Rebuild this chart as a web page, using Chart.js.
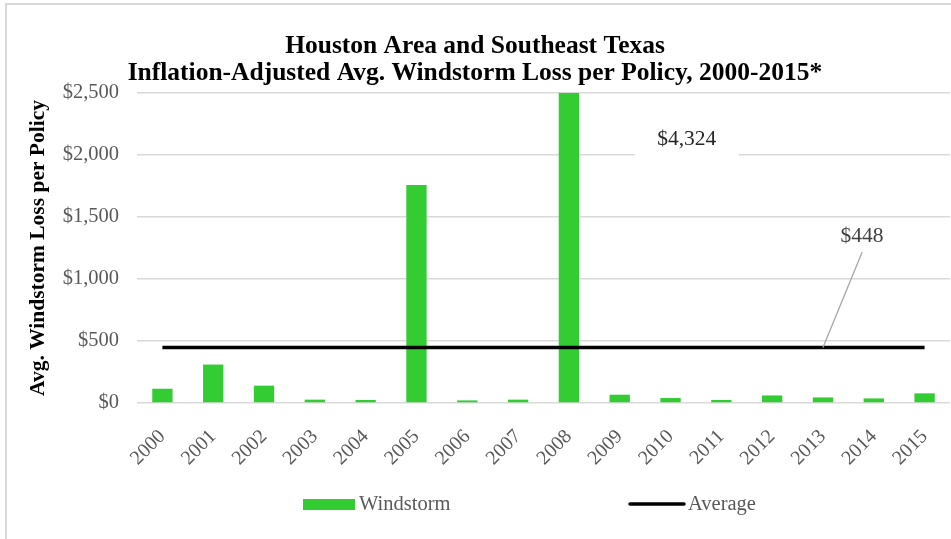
<!DOCTYPE html>
<html>
<head>
<meta charset="utf-8">
<title>Houston Windstorm Loss per Policy</title>
<script src="https://cdn.jsdelivr.net/npm/chart.js@4.4.1/dist/chart.umd.min.js"></script>
<style>
    html, body { margin: 0; padding: 0; background: #fff; overflow: hidden; }
    #frame { position: absolute; left: 5px; top: 3px; width: 1000px; height: 600px; border: 2px solid #d9d9d9; box-sizing: border-box; }
    #wrap { position: absolute; left: 0; top: 0; width: 951px; height: 539px; }
</style>
</head>
<body>
<div id="frame"></div>
<div id="wrap"><canvas id="lossChart"></canvas></div>
<script>
// data
const years = ['2000', '2001', '2002', '2003', '2004', '2005', '2006', '2007',
               '2008', '2009', '2010', '2011', '2012', '2013', '2014', '2015'];
const windstormLoss = [115, 310, 140, 27, 24, 1759, 21, 27, 4324, 67, 40, 24, 61, 45, 37, 78];
const averageLoss = [448, 448, 448, 448, 448, 448, 448, 448, 448, 448, 448, 448, 448, 448, 448, 448];
const yTicks = [0, 500, 1000, 1500, 2000, 2500];
const titleLines = ['Houston Area and Southeast Texas',
                    'Inflation-Adjusted Avg. Windstorm Loss per Policy, 2000-2015*'];

const SERIF = "'Liberation Serif', 'Times New Roman', serif";
const GREEN = '#33cc33';

const money = (v) => '$' + Number(v).toLocaleString('en-US');

// Excel-style data callouts: the clipped 2008 bar value and the average
const calloutPlugin = {
    id: 'callouts',
    afterDatasetsDraw(chart) {
        const { ctx, scales: { x, y } } = chart;
        ctx.save();
        ctx.font = '21.5px ' + SERIF;
        ctx.textAlign = 'center';
        ctx.textBaseline = 'middle';

        // peak value label, sits on a white box that hides the grid line
        const px = x.getPixelForValue(10.32);
        const py = y.getPixelForValue(2130);
        ctx.fillStyle = '#fff';
        ctx.fillRect(px - 52, py - 18, 104, 40);
        ctx.fillStyle = '#262626';
        ctx.fillText(money(windstormLoss[8]), px, py);

        // average label with leader line
        const ax = x.getPixelForValue(13.77);
        const ay = y.getPixelForValue(1344);
        ctx.strokeStyle = '#a6a6a6';
        ctx.lineWidth = 1.3;
        ctx.beginPath();
        ctx.moveTo(ax, y.getPixelForValue(1215));
        ctx.lineTo(x.getPixelForValue(13), y.getPixelForValue(averageLoss[13]));
        ctx.stroke();
        ctx.fillStyle = '#404040';
        ctx.fillText(money(averageLoss[13]), ax, ay);
        ctx.restore();
    }
};

// legend spread out like the Excel original
const spreadLegendPlugin = {
    id: 'spreadLegend',
    afterDraw(chart) {
        const { ctx } = chart;
        const ds = chart.data.datasets;
        const bars = ds.find(d => d.type === 'bar');
        const avg = ds.find(d => d.type === 'line');
        const cy = 505;
        ctx.save();
        ctx.font = '20.5px ' + SERIF;
        ctx.textBaseline = 'middle';
        ctx.textAlign = 'left';

        ctx.fillStyle = bars.backgroundColor;
        ctx.fillRect(303, cy - 6, 52, 11);
        ctx.fillStyle = '#595959';
        ctx.fillText(bars.label, 359, cy);

        ctx.strokeStyle = avg.borderColor;
        ctx.lineWidth = 3.5;
        ctx.lineCap = 'round';
        ctx.beginPath();
        ctx.moveTo(630, cy - 1);
        ctx.lineTo(684, cy - 1);
        ctx.stroke();
        ctx.fillText(avg.label, 688, cy);
        ctx.restore();
    }
};

new Chart(document.getElementById('lossChart').getContext('2d'), {
    data: {
        labels: years,
        datasets: [
            {
                type: 'bar',
                label: 'Windstorm',
                data: windstormLoss,
                backgroundColor: GREEN,
                barPercentage: 0.8,
                categoryPercentage: 0.5,
                clip: 0,
                order: 2
            },
            {
                type: 'line',
                label: 'Average',
                data: averageLoss,
                borderColor: '#000000',
                borderWidth: 3.5,
                pointRadius: 0,
                order: 1
            }
        ]
    },
    options: {
        responsive: true,
        maintainAspectRatio: false,
        devicePixelRatio: 1,
        animation: false,
        layout: { padding: { left: 0, right: 1, top: 0, bottom: 71 } },
        plugins: {
            legend: { display: false },
            tooltip: { enabled: false },
            title: {
                display: true,
                text: titleLines,
                color: '#000',
                font: { family: SERIF, size: 25.5, weight: 'bold', lineHeight: 1.06 },
                padding: { top: 33, bottom: 6 }
            }
        },
        scales: {
            x: {
                grid: { display: false },
                border: { display: false },
                ticks: {
                    color: '#595959',
                    font: { family: SERIF, size: 20 },
                    minRotation: 45,
                    maxRotation: 45,
                    padding: 14
                },
                afterFit: (scale) => {
                    scale.height = 65;
                    scale.paddingRight = 0;
                }
            },
            y: {
                min: 0,
                max: 2500,
                afterBuildTicks: (scale) => { scale.ticks = yTicks.map(v => ({ value: v })); },
                grid: { color: '#d9d9d9', lineWidth: 1.5, drawTicks: false },
                border: { display: false },
                ticks: {
                    color: '#595959',
                    font: { family: SERIF, size: 20.5 },
                    padding: 18,
                    callback: (v) => money(v)
                },
                title: {
                    display: true,
                    text: 'Avg. Windstorm Loss per Policy',
                    color: '#000',
                    font: { family: SERIF, size: 21.5, weight: 'bold' },
                    padding: { top: 26, bottom: 0 }
                },
                afterFit: (scale) => { scale.width = 137; }
            }
        }
    },
    plugins: [calloutPlugin, spreadLegendPlugin]
});
</script>
</body>
</html>
